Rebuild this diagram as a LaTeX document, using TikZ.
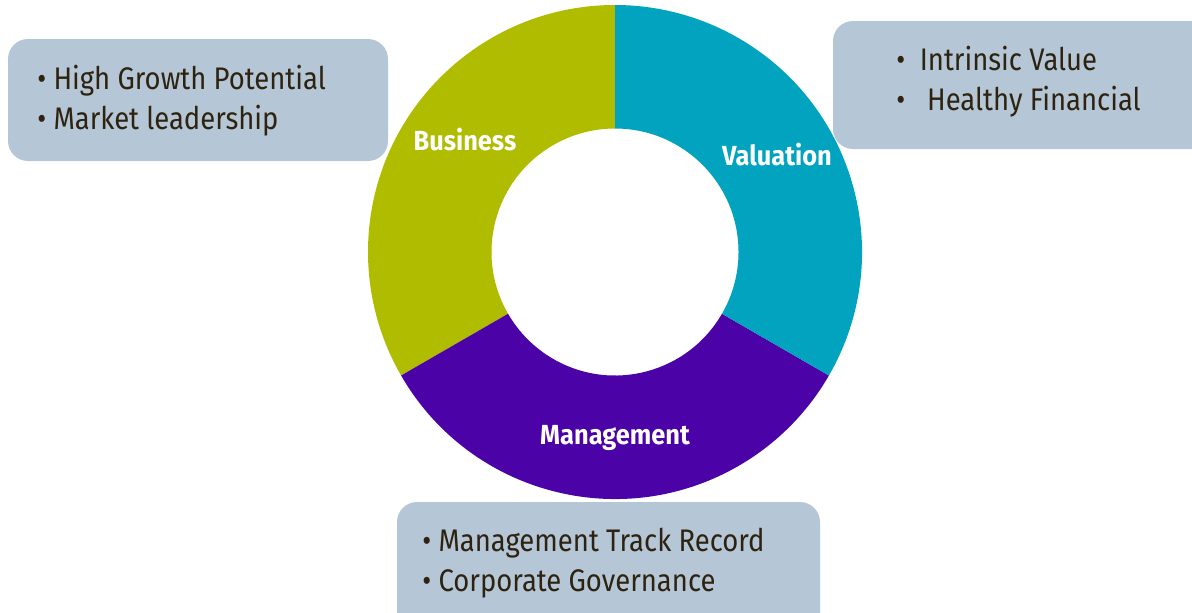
\documentclass[tikz,border=0pt]{standalone}
\usepackage{fontspec}
\setmainfont{Fira Sans}[FakeStretch=0.88]
\newfontfamily\labelfont{Fira Sans}[FakeStretch=0.92,BoldFont={* Bold}]
\definecolor{busicol}{HTML}{AFBC00}
\definecolor{valucol}{HTML}{02A3BF}
\definecolor{mgmtcol}{HTML}{4B02A6}
\definecolor{boxcol}{HTML}{B5C7D7}
\definecolor{txtcol}{HTML}{2E2310}
\tikzset{
  ringlabel/.style={text=white, font=\labelfont\bfseries\fontsize{13.8}{16}\selectfont, inner sep=0pt},
  infobox/.style={fill=boxcol, rounded corners=10pt, inner sep=0pt},
  bullets/.style={text=txtcol, font=\fontsize{15.6}{20}\selectfont, align=left, inner sep=0pt, anchor=west}
}
\begin{document}
\begin{tikzpicture}[x=0.5pt,y=-0.5pt]
      \useasboundingbox (0,0) rectangle (1192,612);
      \begin{scope}[shift={(615,252)}, x=0.5pt, y=0.5pt]
        \fill[busicol] (90:123.5) -- (90:247) arc[start angle=90, end angle=210, radius=247]
          -- (210:123.5) arc[start angle=210, end angle=90, radius=123.5] -- cycle;
        \fill[mgmtcol] (210:123.5) -- (210:247) arc[start angle=210, end angle=330, radius=247]
          -- (330:123.5) arc[start angle=330, end angle=210, radius=123.5] -- cycle;
        \fill[valucol] (330:123.5) -- (330:247) arc[start angle=-30, end angle=90, radius=247]
          -- (90:123.5) arc[start angle=90, end angle=-30, radius=123.5] -- cycle;
      \end{scope}
      \draw
        (465,140) node[ringlabel] (business){Business}
        (777,155) node[ringlabel] (valuation){Valuation}
        (615,438) node[ringlabel] (management){Management};
      % boxes
      \node[infobox, minimum width=190pt, minimum height=61pt] (busibox) at (198,100) {};
      \node[infobox, minimum width=200pt, minimum height=64pt] (valubox) at (1033,85) {};
      \node[infobox, minimum width=211.5pt, minimum height=70pt] (mgmtbox) at (608.5,572) {};
      \node[bullets] (busitext) at (37,101)
        {\textbullet\ High Growth Potential\\ \textbullet\ Market leadership};
      \node[bullets] (valutext) at (896,82)
        {\textbullet\ \ Intrinsic Value\\ \textbullet\ \ \ Healthy Financial};
      \node[bullets] (mgmttext) at (422,563)
        {\textbullet\ Management Track Record\\ \textbullet\ Corporate Governance};
    \end{tikzpicture}
\end{document}
